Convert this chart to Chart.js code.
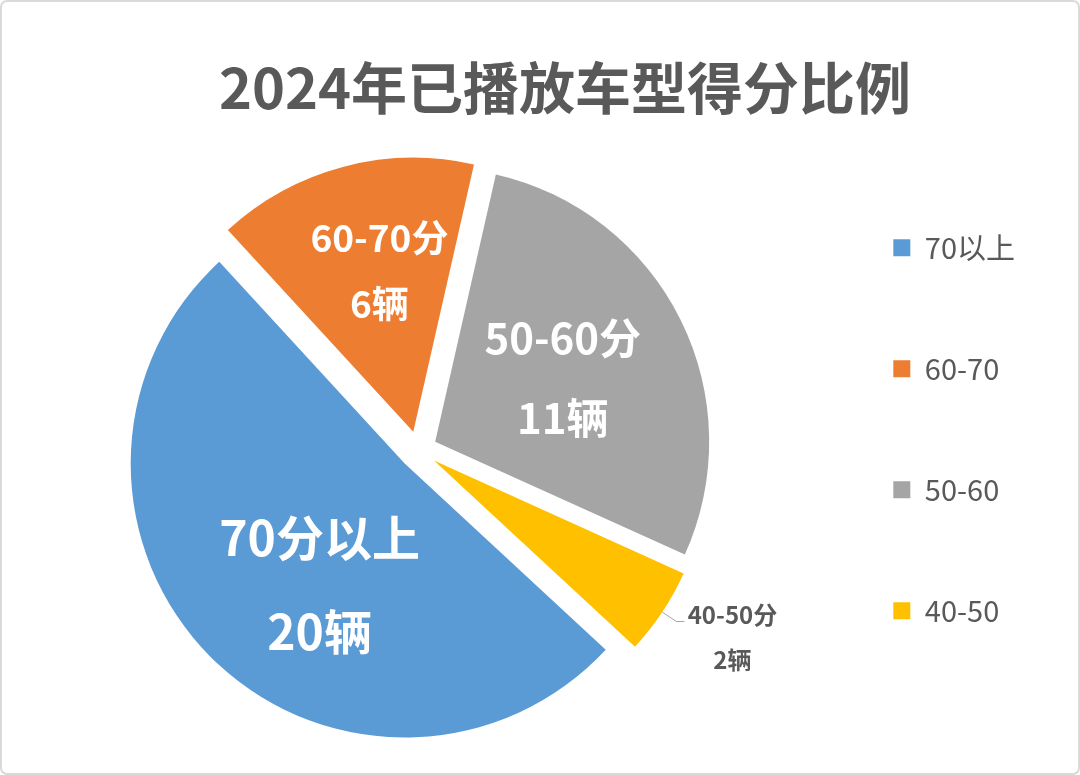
<!DOCTYPE html>
<html>
<head>
<meta charset="utf-8">
<script src="https://cdn.jsdelivr.net/npm/chart.js@4.4.1/dist/chart.umd.min.js"></script>
<style>
  html, body { margin: 0; padding: 0; background: #fff; }
  canvas { display: block; }
</style>
</head>
<body>
<canvas id="grafico" width="1080" height="775"></canvas>
<script>
const titulo = '2024年已播放车型得分比例'
const categorias = ['70以上', '60-70', '50-60', '40-50']
const etiquetas = ['70分以上', '60-70分', '50-60分', '40-50分']
const cantidades = [20, 6, 11, 2]
const colores = ['#5B9BD5', '#ED7D31', '#A5A5A5', '#FFC000']

const fuente = '"Noto Sans CJK SC", "Noto Sans", sans-serif'

// separa cada porcion desde el centro (pie "explotado")
const separar = {
  id: 'separar',
  afterDatasetsUpdate(chart, args, opts) {
    chart.getDatasetMeta(0).data.forEach(arc => {
      const mid = (arc.startAngle + arc.endAngle) / 2
      arc.x += Math.cos(mid) * opts.distancia
      arc.y += Math.sin(mid) * opts.distancia
    })
  }
}

// mueve el titulo un poco a la derecha
const moverTitulo = {
  id: 'moverTitulo',
  afterLayout(chart, args, opts) {
    chart.titleBlock.left += opts.dx
    chart.titleBlock.right += opts.dx
  }
}

const fondo = {
  id: 'fondo',
  beforeDraw(chart) {
    const ctx = chart.ctx
    ctx.save()
    ctx.fillStyle = '#fff'
    ctx.fillRect(0, 0, chart.width, chart.height)
    ctx.restore()
  },
  afterDraw(chart) {
    const ctx = chart.ctx
    ctx.save()
    ctx.strokeStyle = '#d9d9d9'
    ctx.lineWidth = 2
    ctx.beginPath()
    ctx.roundRect(1, 1, chart.width - 2, chart.height - 2, 6)
    ctx.stroke()
    ctx.restore()
  }
}

// etiquetas dentro y fuera de las porciones
const rotulos = {
  id: 'rotulos',
  afterDatasetsDraw(chart, args, opts) {
    const ctx = chart.ctx
    chart.getDatasetMeta(0).data.forEach((arc, i) => {
      const est = opts.estilos[i]
      const mid = (arc.startAngle + arc.endAngle) / 2
      const lineas = [etiquetas[i], cantidades[i] + '辆']
      ctx.save()
      ctx.font = 'bold ' + est.tam + 'px ' + fuente
      ctx.textAlign = 'center'
      ctx.textBaseline = 'middle'
      ctx.fillStyle = est.color
      const salto = est.tam * est.salto
      if (est.fuera) {
        const r = arc.outerRadius
        const x0 = arc.x + Math.cos(mid) * r
        const y0 = arc.y + Math.sin(mid) * r
        const x1 = arc.x + Math.cos(mid) * (r + 17)
        const y1 = arc.y + Math.sin(mid) * (r + 17)
        const x2 = x1 + 8
        ctx.strokeStyle = '#a6a6a6'
        ctx.lineWidth = 1
        ctx.beginPath()
        ctx.moveTo(x0, y0)
        ctx.lineTo(x1, y1)
        ctx.lineTo(x2, y1)
        ctx.stroke()
        const cx = x2 + 48
        ctx.fillText(lineas[0], cx, y1 - 7)
        ctx.fillText(lineas[1], cx, y1 - 7 + salto)
      } else {
        const ang = mid + est.giro * Math.PI / 180
        const r = arc.outerRadius * est.radio
        const cx = arc.x + Math.cos(ang) * r
        const cy = arc.y + Math.sin(ang) * r
        ctx.fillText(lineas[0], cx, cy - salto / 2)
        ctx.fillText(lineas[1], cx, cy + salto / 2)
      }
      ctx.restore()
    })
  }
}

let grafico = document.getElementById('grafico').getContext('2d')

new Chart(grafico, {
  type: 'pie',
  data: {
    labels: categorias,
    datasets: [{
      data: cantidades,
      backgroundColor: colores,
      borderWidth: 0
    }]
  },
  options: {
    responsive: false,
    animation: false,
    events: [],
    devicePixelRatio: 1,
    rotation: 132.8,
    radius: 274,
    layout: {
      padding: { left: 35, right: 55, top: 0, bottom: 16 }
    },
    plugins: {
      title: {
        display: true,
        text: titulo,
        color: '#595959',
        font: { family: fuente, size: 56, weight: 'bold', lineHeight: 1.2 },
        padding: { top: 54, bottom: 20 }
      },
      legend: {
        position: 'right',
        align: 'start',
        fullSize: false,
        labels: {
          boxWidth: 17,
          boxHeight: 17,
          padding: 92,
          color: '#595959',
          font: { family: fuente, size: 29 }
        }
      },
      tooltip: { enabled: false },
      separar: { distancia: 19 },
      moverTitulo: { dx: 35 },
      rotulos: {
        estilos: [
          { tam: 48, salto: 1.95, color: '#fff', radio: 0.54, giro: -10 },
          { tam: 37, salto: 1.8, color: '#fff', radio: 0.6, giro: 3 },
          { tam: 42, salto: 1.9, color: '#fff', radio: 0.52, giro: 0 },
          { tam: 24, salto: 1.9, color: '#595959', fuera: true }
        ]
      }
    }
  },
  plugins: [fondo, separar, moverTitulo, rotulos]
})
</script>
</body>
</html>
